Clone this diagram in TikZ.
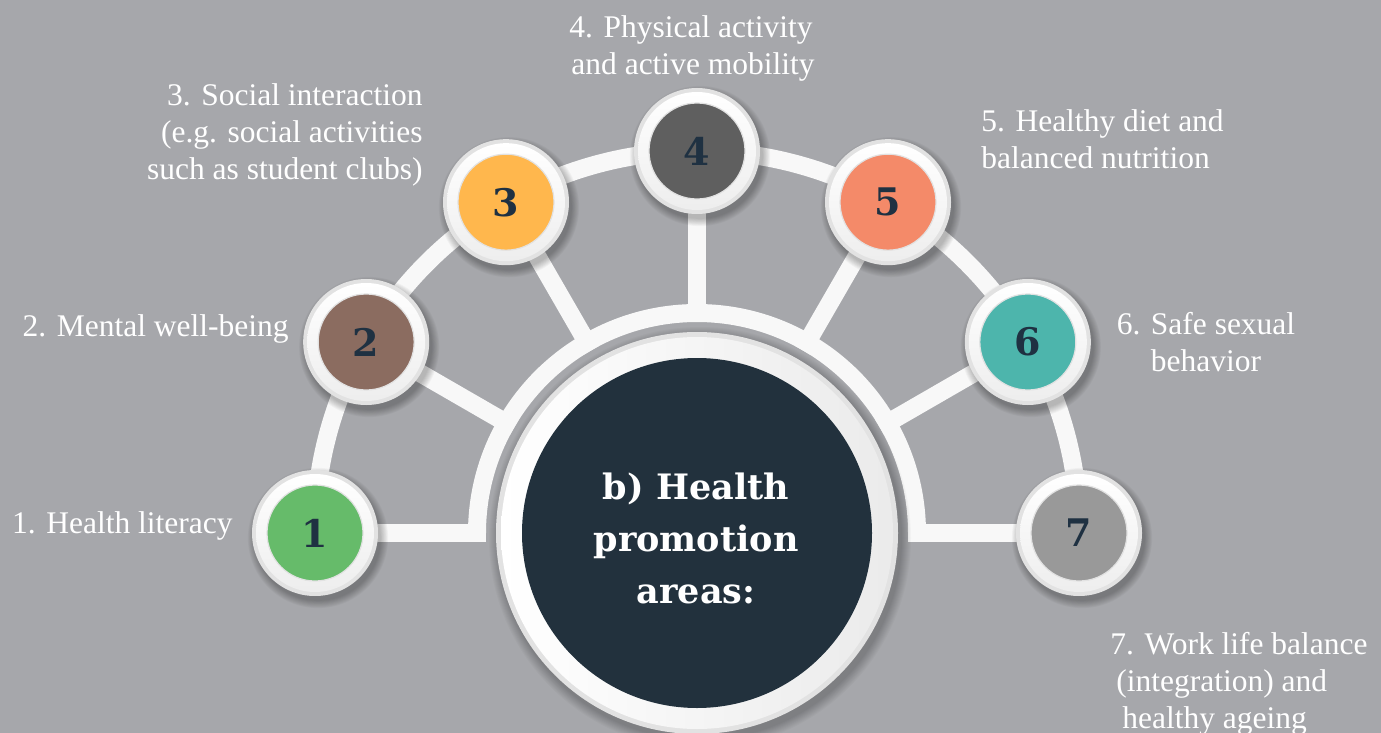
\documentclass[tikz,border=0pt]{standalone}
\usepackage{fontspec}
\setmainfont{Liberation Serif}
\newfontfamily\slabfont{DejaVu Serif}
\usetikzlibrary{calc}
\definecolor{bgc}{HTML}{A6A7AB}
\definecolor{bandc}{HTML}{F8F8F8}
\definecolor{ringedge}{HTML}{E2E2E2}
\definecolor{hubc}{HTML}{22313D}
\definecolor{numc}{HTML}{1F3142}
\definecolor{c1}{HTML}{66BB6A}
\definecolor{c2}{HTML}{8B6C60}
\definecolor{c3}{HTML}{FFB74D}
\definecolor{c4}{HTML}{5F5F5F}
\definecolor{c5}{HTML}{F48A69}
\definecolor{c6}{HTML}{4DB5AC}
\definecolor{c7}{HTML}{999999}
\pgfdeclarelayer{bglayer}
\pgfdeclarelayer{backlayer}
\pgfsetlayers{bglayer,backlayer,main}
\tikzset{
  band/.style={draw=bandc, line width=9pt, line cap=butt},
  numdisk/.style={circle, inner sep=0pt, minimum size=48pt, draw=ringedge, line width=0.6pt,
    text=numc, font=\slabfont\bfseries\fontsize{19}{20}\selectfont},
  hubdisk/.style={circle, inner sep=0pt, minimum size=175pt, fill=hubc},
  hubtext/.style={text=white, align=center, inner sep=0pt,
    font=\slabfont\bfseries\fontsize{17.5}{26}\selectfont},
  lab/.style={text=white, inner sep=0pt, font=\fontsize{15.75}{18.5}\selectfont},
}
\begin{document}
\begin{tikzpicture}[x=0.5pt,y=-0.5pt]
\useasboundingbox (0,0) rectangle (1381,733);
\begin{pgfonlayer}{bglayer}
\fill[bgc] (0,0) rectangle (1381,733);
\end{pgfonlayer}
\coordinate (C) at (697,533);
\foreach \i/\a in {1/180,2/150,3/120,4/90,5/60,6/30,7/0}
  \coordinate (p\i) at ($(C)+(-\a:382)$);

% hub shadow and ring
\foreach \k in {1,...,10}
  \fill[black, opacity=0.025] ($(C)+(3,5)$) circle ({201+\k*1.0});
\fill[ringedge] (C) circle (201);
\shade[left color=white, right color=ringedge!70] (C) circle (196);
\node[hubdisk] (hub) at (C) {};
\node[hubtext] (title) at (696,538) {b) Health\\promotion\\areas:};

% small circles
\foreach \i in {1,...,7}{
  \foreach \k in {1,...,9}
    \fill[black, opacity=0.03] ($(p\i)+(3,5)$) circle ({62+\k*0.9});
  \fill[ringedge] (p\i) circle (63);
  \shade[top color=white, bottom color=ringedge!60] (p\i) circle (59);
  \node[numdisk, fill=c\i] (n\i) at (p\i) {\i};
}

% arcs and spokes
\begin{pgfonlayer}{backlayer}
\draw[band] ($(C)+(180:382)$) arc[start angle=180, end angle=360, radius=382];
\draw[band] ($(C)+(180:220)$) arc[start angle=180, end angle=360, radius=220];
\foreach \i/\a in {1/180,2/150,3/120,4/90,5/60,6/30,7/0}{
  \coordinate (s\i) at ($(C)+(-\a:211)$);
  \draw[band] (s\i) -- (n\i.center);
}
\end{pgfonlayer}

% labels
\node[lab, anchor=north east] (l1) at (233,511) {1. Health literacy};
\node[lab, anchor=north east] (l2) at (289,314) {2. Mental well-being};
\node[lab, anchor=north east, align=right] (l3) at (423,83) {3. Social interaction\\(e.g. social activities\hspace*{3.5pt}\\such as student clubs)};
\node[lab, anchor=north west, align=left] (l4) at (569,15) {4. Physical activity\\\hspace*{1pt}and active mobility};
\node[lab, anchor=north west, align=left] (l5) at (981,109) {5. Healthy diet and\\balanced nutrition};
\node[lab, anchor=north, align=center] (l6) at (1206,312) {6. Safe sexual\\behavior};
\node[lab, anchor=north west, align=left] (l7) at (1110,632) {7. Work life balance\\\hspace*{3pt}(integration) and\\\hspace*{6pt}healthy ageing};
\end{tikzpicture}
\end{document}
